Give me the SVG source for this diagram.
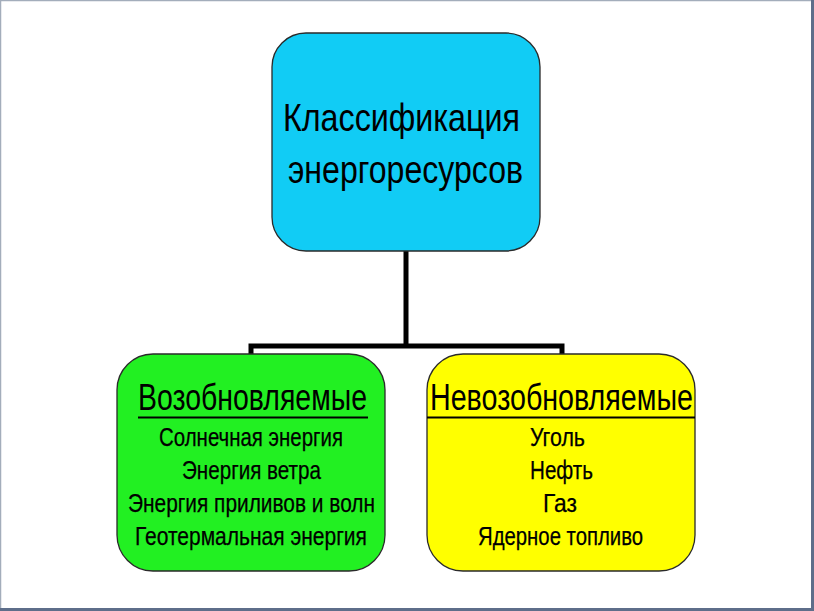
<svg xmlns="http://www.w3.org/2000/svg" width="814" height="611" viewBox="0 0 814 611">
<style>
.box{stroke:#2a2a2a;stroke-width:1.3}
.t{font-family:"Liberation Sans",Arial,sans-serif;fill:#000;text-anchor:middle}
.title{font-size:39px}
.head{font-size:36px}
.item{font-size:25px;stroke:#000;stroke-width:0.25}
.conn{stroke:#000;stroke-width:5;fill:none;stroke-linejoin:miter}
.ul{stroke:#000;stroke-width:2.2}
</style>
<rect x="0" y="0" width="814" height="611" fill="#ffffff"/>
<g id="frame">
<rect x="0.5" y="0.5" width="812" height="609" fill="none" stroke="#a3adbb" stroke-width="1.5"/>
<rect x="811" y="0" width="3" height="611" fill="#5e6e8a"/>
<rect x="0" y="608" width="814" height="3" fill="#5e6e8a"/>
</g>
<g id="connectors">
<path class="conn" d="M406 251 V346 M251 356 V346 H562 V356"/>
</g>
<g id="node-root">
<rect class="box" x="272" y="33" width="268" height="218" rx="34" fill="#11ccf5"/>
<text class="t title" x="401.5" y="131" textLength="237" lengthAdjust="spacingAndGlyphs">Классификация</text>
<text class="t title" x="405.5" y="183" textLength="235" lengthAdjust="spacingAndGlyphs">энергоресурсов</text>
</g>
<g id="node-renewable">
<rect class="box" x="117" y="354" width="268" height="217" rx="36" fill="#22f022"/>
<text class="t head" x="252.5" y="410" textLength="229" lengthAdjust="spacingAndGlyphs">Возобновляемые</text>
<line class="ul" x1="138" y1="417.5" x2="368" y2="417.5"/>
<text class="t item" x="251" y="445.5" textLength="184" lengthAdjust="spacingAndGlyphs">Солнечная энергия</text>
<text class="t item" x="251.5" y="479" textLength="139" lengthAdjust="spacingAndGlyphs">Энергия ветра</text>
<text class="t item" x="251.5" y="512" textLength="247" lengthAdjust="spacingAndGlyphs">Энергия приливов и волн</text>
<text class="t item" x="251" y="545" textLength="232" lengthAdjust="spacingAndGlyphs">Геотермальная энергия</text>
</g>
<g id="node-nonrenewable">
<rect class="box" x="427" y="354" width="268" height="217" rx="36" fill="#ffff00"/>
<text class="t head" x="561.5" y="410" textLength="263" lengthAdjust="spacingAndGlyphs">Невозобновляемые</text>
<line class="ul" x1="427" y1="417.5" x2="695" y2="417.5"/>
<text class="t item" x="557.5" y="445.5" textLength="55" lengthAdjust="spacingAndGlyphs">Уголь</text>
<text class="t item" x="561.5" y="479" textLength="63" lengthAdjust="spacingAndGlyphs">Нефть</text>
<text class="t item" x="560" y="512" textLength="34" lengthAdjust="spacingAndGlyphs">Газ</text>
<text class="t item" x="560.5" y="545" textLength="165" lengthAdjust="spacingAndGlyphs">Ядерное топливо</text>
</g>
</svg>
